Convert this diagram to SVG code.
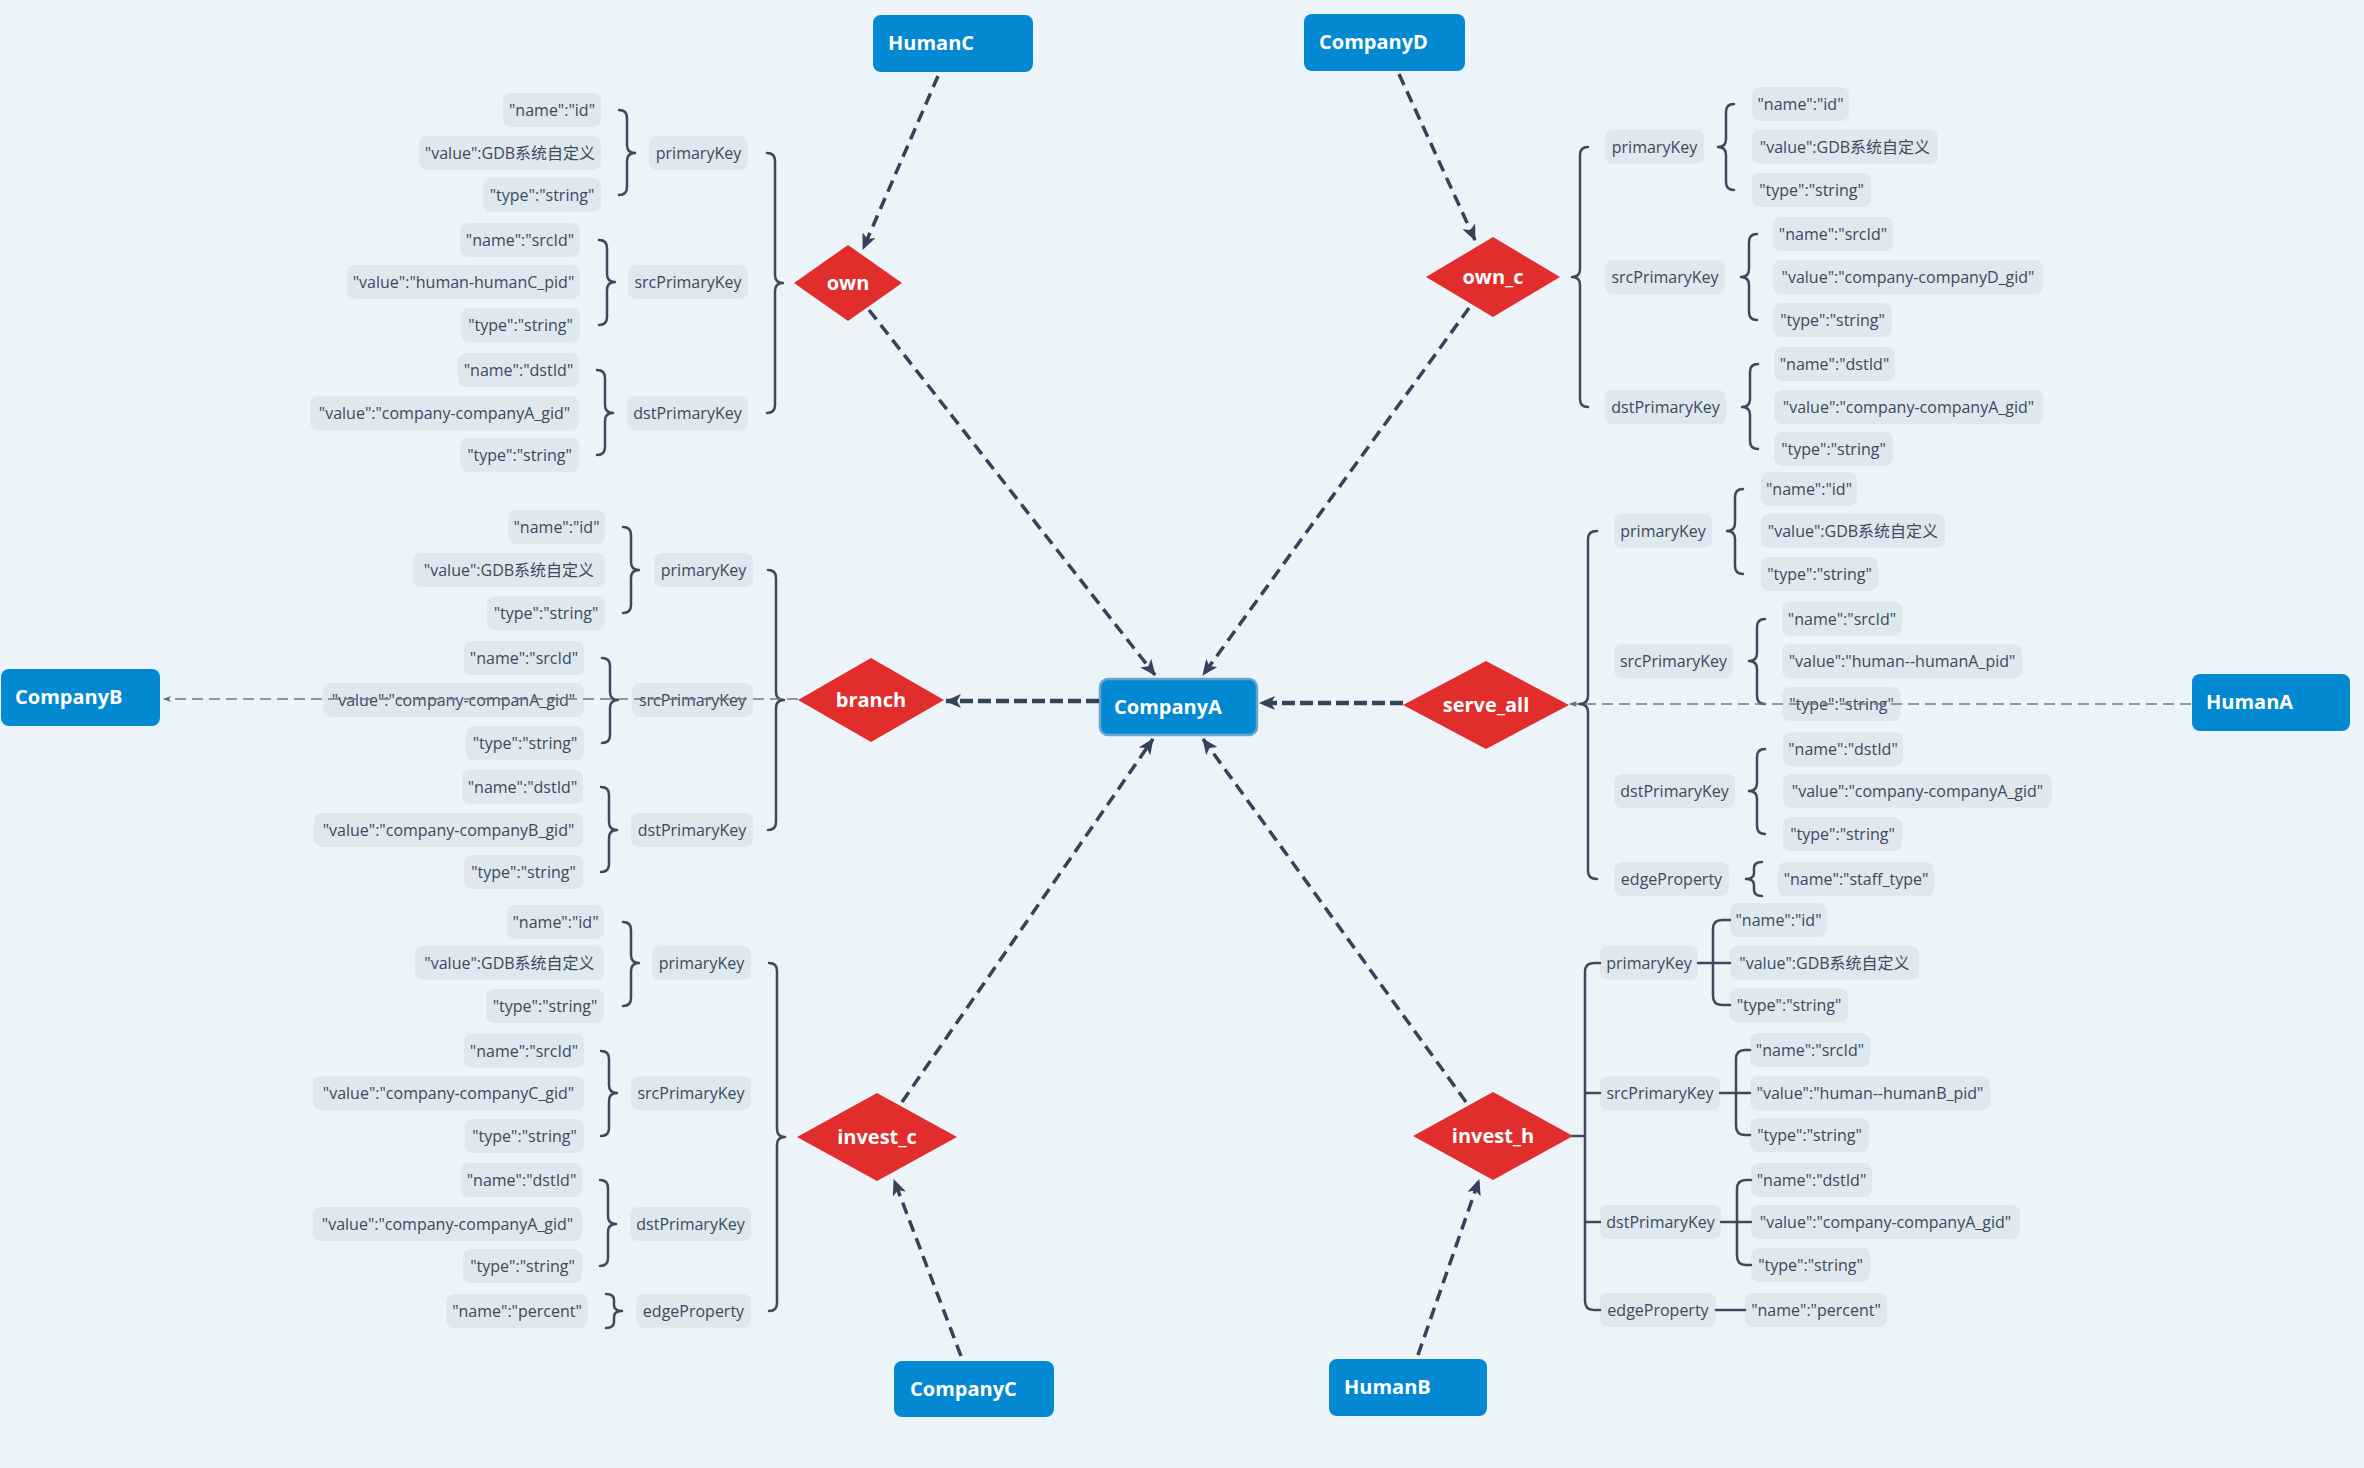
<svg xmlns="http://www.w3.org/2000/svg" width="2364" height="1468" viewBox="0 0 2364 1468">
<defs>
<style>
.bg{fill:#ECF4FA}
.node rect{fill:#0389D2;}
.node text{fill:#FFFFFF;font-family:"Open Sans","Noto Sans",sans-serif;font-weight:700;font-size:20px}
.rel polygon{fill:#E22D2D}
.rel text{fill:#FFFFFF;font-family:"Open Sans","Noto Sans",sans-serif;font-weight:700;font-size:20px;text-anchor:middle}
.box rect{fill:#DFE7EF}
.box text{fill:#3B4A5D;font-family:"Open Sans","Noto Sans CJK SC",sans-serif;font-size:16px;text-anchor:middle}
.brace{fill:none;stroke:#3B4A5E;stroke-width:2.5;stroke-linecap:round;stroke-linejoin:round}
.edge{fill:none;stroke:#34435A;stroke-width:3.5;stroke-dasharray:12 7}
.thick{stroke-width:4.5;stroke-dasharray:13 5}
.thin{stroke:#6E7A8C;stroke-width:1.6;stroke-dasharray:11 6}
</style>
<marker id="arr" markerUnits="userSpaceOnUse" viewBox="0 0 16 14" markerWidth="16" markerHeight="14" refX="15" refY="7" orient="auto">
<path d="M0,0 L16,7 L0,14 L4,7 Z" fill="#34435A"/>
</marker>
<marker id="arrs" markerUnits="userSpaceOnUse" viewBox="0 0 8 8" markerWidth="8" markerHeight="8" refX="7" refY="4" orient="auto">
<path d="M0,1 L8,4 L0,7 L2,4 Z" fill="#5E6B7E"/>
</marker>
</defs>
<rect class="bg" x="0" y="0" width="2364" height="1468"/>

<g id="attributes">
<g id="own-attrs">
<g id="own-pk-name" class="box"><rect x="503" y="93" width="98" height="34" rx="8"/><text x="552" y="116">"name":"id"</text></g>
<g id="own-pk-value" class="box"><rect x="419" y="136" width="182" height="34" rx="8"/><text x="510" y="159">"value":GDB系统自定义</text></g>
<g id="own-pk-type" class="box"><rect x="483" y="178" width="118" height="34" rx="8"/><text x="542" y="201">"type":"string"</text></g>
<g id="own-pk" class="box"><rect x="649" y="136" width="99" height="34" rx="8"/><text x="698.5" y="159">primaryKey</text></g>
<g id="own-src-name" class="box"><rect x="460" y="223" width="120" height="34" rx="8"/><text x="520" y="246">"name":"srcId"</text></g>
<g id="own-src-value" class="box"><rect x="347" y="265" width="233" height="34" rx="8"/><text x="463.5" y="288">"value":"human-humanC_pid"</text></g>
<g id="own-src-type" class="box"><rect x="461" y="308" width="119" height="34" rx="8"/><text x="520.5" y="331">"type":"string"</text></g>
<g id="own-spk" class="box"><rect x="628" y="265" width="120" height="34" rx="8"/><text x="688" y="288">srcPrimaryKey</text></g>
<g id="own-dst-name" class="box"><rect x="458" y="353" width="121" height="34" rx="8"/><text x="518.5" y="376">"name":"dstId"</text></g>
<g id="own-dst-value" class="box"><rect x="310" y="396" width="269" height="34" rx="8"/><text x="444.5" y="419">"value":"company-companyA_gid"</text></g>
<g id="own-dst-type" class="box"><rect x="460" y="438" width="119" height="34" rx="8"/><text x="519.5" y="461">"type":"string"</text></g>
<g id="own-dpk" class="box"><rect x="627" y="396" width="121" height="34" rx="8"/><text x="687.5" y="419">dstPrimaryKey</text></g>
</g>

<g id="ownc-attrs">
<g id="ownc-pk" class="box"><rect x="1605" y="130" width="99" height="34" rx="8"/><text x="1654.5" y="153">primaryKey</text></g>
<g id="ownc-pk-name" class="box"><rect x="1752" y="87" width="97" height="34" rx="8"/><text x="1800.5" y="110">"name":"id"</text></g>
<g id="ownc-pk-value" class="box"><rect x="1752" y="130" width="186" height="34" rx="8"/><text x="1845" y="153">"value":GDB系统自定义</text></g>
<g id="ownc-pk-type" class="box"><rect x="1752" y="173" width="119" height="34" rx="8"/><text x="1811.5" y="196">"type":"string"</text></g>
<g id="ownc-spk" class="box"><rect x="1605" y="260" width="120" height="34" rx="8"/><text x="1665" y="283">srcPrimaryKey</text></g>
<g id="ownc-src-name" class="box"><rect x="1773" y="217" width="120" height="34" rx="8"/><text x="1833" y="240">"name":"srcId"</text></g>
<g id="ownc-src-value" class="box"><rect x="1773" y="260" width="270" height="34" rx="8"/><text x="1908" y="283">"value":"company-companyD_gid"</text></g>
<g id="ownc-src-type" class="box"><rect x="1773" y="303" width="119" height="34" rx="8"/><text x="1832.5" y="326">"type":"string"</text></g>
<g id="ownc-dpk" class="box"><rect x="1605" y="390" width="121" height="34" rx="8"/><text x="1665.5" y="413">dstPrimaryKey</text></g>
<g id="ownc-dst-name" class="box"><rect x="1774" y="347" width="121" height="34" rx="8"/><text x="1834.5" y="370">"name":"dstId"</text></g>
<g id="ownc-dst-value" class="box"><rect x="1774" y="390" width="269" height="34" rx="8"/><text x="1908.5" y="413">"value":"company-companyA_gid"</text></g>
<g id="ownc-dst-type" class="box"><rect x="1774" y="432" width="119" height="34" rx="8"/><text x="1833.5" y="455">"type":"string"</text></g>
</g>

<g id="branch-attrs">
<g id="branch-pk-name" class="box"><rect x="508" y="510" width="97" height="34" rx="8"/><text x="556.5" y="533">"name":"id"</text></g>
<g id="branch-pk-value" class="box"><rect x="413" y="553" width="192" height="34" rx="8"/><text x="509" y="576">"value":GDB系统自定义</text></g>
<g id="branch-pk-type" class="box"><rect x="487" y="596" width="118" height="34" rx="8"/><text x="546" y="619">"type":"string"</text></g>
<g id="branch-pk" class="box"><rect x="654" y="553" width="99" height="34" rx="8"/><text x="703.5" y="576">primaryKey</text></g>
<g id="branch-src-name" class="box"><rect x="464" y="641" width="120" height="34" rx="8"/><text x="524" y="664">"name":"srcId"</text></g>
<g id="branch-src-value" class="box"><rect x="323" y="683" width="261" height="34" rx="8"/><text x="453.5" y="706">"value":"company-companA_gid"</text></g>
<g id="branch-src-type" class="box"><rect x="466" y="726" width="118" height="34" rx="8"/><text x="525" y="749">"type":"string"</text></g>
<g id="branch-spk" class="box"><rect x="632" y="683" width="121" height="34" rx="8"/><text x="692.5" y="706">srcPrimaryKey</text></g>
<g id="branch-dst-name" class="box"><rect x="462" y="770" width="121" height="34" rx="8"/><text x="522.5" y="793">"name":"dstId"</text></g>
<g id="branch-dst-value" class="box"><rect x="314" y="813" width="269" height="34" rx="8"/><text x="448.5" y="836">"value":"company-companyB_gid"</text></g>
<g id="branch-dst-type" class="box"><rect x="464" y="855" width="119" height="34" rx="8"/><text x="523.5" y="878">"type":"string"</text></g>
<g id="branch-dpk" class="box"><rect x="631" y="813" width="122" height="34" rx="8"/><text x="692" y="836">dstPrimaryKey</text></g>
</g>

<g id="serve-attrs">
<g id="serve-pk" class="box"><rect x="1614" y="514" width="98" height="34" rx="8"/><text x="1663" y="537">primaryKey</text></g>
<g id="serve-pk-name" class="box"><rect x="1761" y="472" width="96" height="34" rx="8"/><text x="1809" y="495">"name":"id"</text></g>
<g id="serve-pk-value" class="box"><rect x="1761" y="514" width="184" height="34" rx="8"/><text x="1853" y="537">"value":GDB系统自定义</text></g>
<g id="serve-pk-type" class="box"><rect x="1761" y="557" width="117" height="34" rx="8"/><text x="1819.5" y="580">"type":"string"</text></g>
<g id="serve-spk" class="box"><rect x="1614" y="644" width="119" height="34" rx="8"/><text x="1673.5" y="667">srcPrimaryKey</text></g>
<g id="serve-src-name" class="box"><rect x="1782" y="602" width="120" height="34" rx="8"/><text x="1842" y="625">"name":"srcId"</text></g>
<g id="serve-src-value" class="box"><rect x="1782" y="644" width="240" height="34" rx="8"/><text x="1902" y="667">"value":"human--humanA_pid"</text></g>
<g id="serve-src-type" class="box"><rect x="1782" y="687" width="119" height="34" rx="8"/><text x="1841.5" y="710">"type":"string"</text></g>
<g id="serve-dpk" class="box"><rect x="1614" y="774" width="121" height="34" rx="8"/><text x="1674.5" y="797">dstPrimaryKey</text></g>
<g id="serve-dst-name" class="box"><rect x="1783" y="732" width="120" height="34" rx="8"/><text x="1843" y="755">"name":"dstId"</text></g>
<g id="serve-dst-value" class="box"><rect x="1783" y="774" width="269" height="34" rx="8"/><text x="1917.5" y="797">"value":"company-companyA_gid"</text></g>
<g id="serve-dst-type" class="box"><rect x="1783" y="817" width="119" height="34" rx="8"/><text x="1842.5" y="840">"type":"string"</text></g>
<g id="serve-ep" class="box"><rect x="1614" y="862" width="115" height="34" rx="8"/><text x="1671.5" y="885">edgeProperty</text></g>
<g id="serve-ep-name" class="box"><rect x="1778" y="862" width="156" height="34" rx="8"/><text x="1856" y="885">"name":"staff_type"</text></g>
</g>

<g id="investc-attrs">
<g id="investc-pk-name" class="box"><rect x="507" y="905" width="97" height="34" rx="8"/><text x="555.5" y="928">"name":"id"</text></g>
<g id="investc-pk-value" class="box"><rect x="415" y="946" width="189" height="34" rx="8"/><text x="509.5" y="969">"value":GDB系统自定义</text></g>
<g id="investc-pk-type" class="box"><rect x="486" y="989" width="118" height="34" rx="8"/><text x="545" y="1012">"type":"string"</text></g>
<g id="investc-pk" class="box"><rect x="652" y="946" width="99" height="34" rx="8"/><text x="701.5" y="969">primaryKey</text></g>
<g id="investc-src-name" class="box"><rect x="464" y="1034" width="120" height="34" rx="8"/><text x="524" y="1057">"name":"srcId"</text></g>
<g id="investc-src-value" class="box"><rect x="313" y="1076" width="271" height="34" rx="8"/><text x="448.5" y="1099">"value":"company-companyC_gid"</text></g>
<g id="investc-src-type" class="box"><rect x="465" y="1119" width="119" height="34" rx="8"/><text x="524.5" y="1142">"type":"string"</text></g>
<g id="investc-spk" class="box"><rect x="631" y="1076" width="120" height="34" rx="8"/><text x="691" y="1099">srcPrimaryKey</text></g>
<g id="investc-dst-name" class="box"><rect x="461" y="1163" width="121" height="34" rx="8"/><text x="521.5" y="1186">"name":"dstId"</text></g>
<g id="investc-dst-value" class="box"><rect x="313" y="1207" width="269" height="34" rx="8"/><text x="447.5" y="1230">"value":"company-companyA_gid"</text></g>
<g id="investc-dst-type" class="box"><rect x="463" y="1249" width="119" height="34" rx="8"/><text x="522.5" y="1272">"type":"string"</text></g>
<g id="investc-dpk" class="box"><rect x="630" y="1207" width="121" height="34" rx="8"/><text x="690.5" y="1230">dstPrimaryKey</text></g>
<g id="investc-ep-name" class="box"><rect x="446" y="1294" width="142" height="34" rx="8"/><text x="517" y="1317">"name":"percent"</text></g>
<g id="investc-ep" class="box"><rect x="636" y="1294" width="115" height="34" rx="8"/><text x="693.5" y="1317">edgeProperty</text></g>
</g>

<g id="investh-attrs">
<g id="investh-pk" class="box"><rect x="1600" y="946" width="98" height="34" rx="8"/><text x="1649" y="969">primaryKey</text></g>
<g id="investh-pk-name" class="box"><rect x="1730" y="903" width="97" height="34" rx="8"/><text x="1778.5" y="926">"name":"id"</text></g>
<g id="investh-pk-value" class="box"><rect x="1730" y="946" width="189" height="34" rx="8"/><text x="1824.5" y="969">"value":GDB系统自定义</text></g>
<g id="investh-pk-type" class="box"><rect x="1730" y="988" width="118" height="34" rx="8"/><text x="1789" y="1011">"type":"string"</text></g>
<g id="investh-spk" class="box"><rect x="1600" y="1076" width="120" height="34" rx="8"/><text x="1660" y="1099">srcPrimaryKey</text></g>
<g id="investh-src-name" class="box"><rect x="1750" y="1033" width="120" height="34" rx="8"/><text x="1810" y="1056">"name":"srcId"</text></g>
<g id="investh-src-value" class="box"><rect x="1750" y="1076" width="240" height="34" rx="8"/><text x="1870" y="1099">"value":"human--humanB_pid"</text></g>
<g id="investh-src-type" class="box"><rect x="1750" y="1118" width="119" height="34" rx="8"/><text x="1809.5" y="1141">"type":"string"</text></g>
<g id="investh-dpk" class="box"><rect x="1600" y="1205" width="121" height="34" rx="8"/><text x="1660.5" y="1228">dstPrimaryKey</text></g>
<g id="investh-dst-name" class="box"><rect x="1751" y="1163" width="121" height="34" rx="8"/><text x="1811.5" y="1186">"name":"dstId"</text></g>
<g id="investh-dst-value" class="box"><rect x="1751" y="1205" width="269" height="34" rx="8"/><text x="1885.5" y="1228">"value":"company-companyA_gid"</text></g>
<g id="investh-dst-type" class="box"><rect x="1751" y="1248" width="119" height="34" rx="8"/><text x="1810.5" y="1271">"type":"string"</text></g>
<g id="investh-ep" class="box"><rect x="1600" y="1293" width="116" height="34" rx="8"/><text x="1658" y="1316">edgeProperty</text></g>
<g id="investh-ep-name" class="box"><rect x="1745" y="1293" width="142" height="34" rx="8"/><text x="1816" y="1316">"name":"percent"</text></g>
</g>
</g>

<g id="braces">
<path class="brace" d="M619 110 Q627 110 627 118 V145 Q627 153 635 153 Q627 153 627 161 V187 Q627 195 619 195"/>
<path class="brace" d="M599 240 Q607 240 607 248 V274 Q607 282 615 282 Q607 282 607 290 V317 Q607 325 599 325"/>
<path class="brace" d="M597 370 Q605 370 605 378 V405 Q605 413 613 413 Q605 413 605 421 V447 Q605 455 597 455"/>
<path class="brace" d="M767 153 Q775 153 775 161 V275 Q775 283 783 283 Q775 283 775 291 V405 Q775 413 767 413"/>

<path class="brace" d="M1588 147 Q1580 147 1580 155 V269 Q1580 277 1572 277 Q1580 277 1580 285 V399 Q1580 407 1588 407"/>
<path class="brace" d="M1734 104 Q1726 104 1726 112 V139 Q1726 147 1718 147 Q1726 147 1726 155 V182 Q1726 190 1734 190"/>
<path class="brace" d="M1757 234 Q1749 234 1749 242 V269 Q1749 277 1741 277 Q1749 277 1749 285 V312 Q1749 320 1757 320"/>
<path class="brace" d="M1758 364 Q1750 364 1750 372 V399 Q1750 407 1742 407 Q1750 407 1750 415 V441 Q1750 449 1758 449"/>

<path class="brace" d="M623 527 Q631 527 631 535 V562 Q631 570 639 570 Q631 570 631 578 V605 Q631 613 623 613"/>
<path class="brace" d="M602 658 Q610 658 610 666 V692 Q610 700 618 700 Q610 700 610 708 V735 Q610 743 602 743"/>
<path class="brace" d="M601 787 Q609 787 609 795 V822 Q609 830 617 830 Q609 830 609 838 V864 Q609 872 601 872"/>
<path class="brace" d="M768 570 Q776 570 776 578 V692 Q776 700 784 700 Q776 700 776 708 V822 Q776 830 768 830"/>

<path class="brace" d="M1597 531 Q1588 531 1588 539 V696 Q1588 704 1579 704 Q1588 704 1588 712 V871 Q1588 879 1597 879"/>
<path class="brace" d="M1743 489 Q1735 489 1735 497 V523 Q1735 531 1727 531 Q1735 531 1735 539 V566 Q1735 574 1743 574"/>
<path class="brace" d="M1765 619 Q1757 619 1757 627 V653 Q1757 661 1749 661 Q1757 661 1757 669 V696 Q1757 704 1765 704"/>
<path class="brace" d="M1765 749 Q1757 749 1757 757 V783 Q1757 791 1749 791 Q1757 791 1757 799 V826 Q1757 834 1765 834"/>
<path class="brace" d="M1762 862 Q1754 862 1754 868 V873 Q1754 879 1746 879 Q1754 879 1754 885 V890 Q1754 896 1762 896"/>

<path class="brace" d="M623 922 Q631 922 631 930 V955 Q631 963 639 963 Q631 963 631 971 V998 Q631 1006 623 1006"/>
<path class="brace" d="M601 1051 Q609 1051 609 1059 V1085 Q609 1093 617 1093 Q609 1093 609 1101 V1128 Q609 1136 601 1136"/>
<path class="brace" d="M600 1180 Q608 1180 608 1188 V1216 Q608 1224 616 1224 Q608 1224 608 1232 V1258 Q608 1266 600 1266"/>
<path class="brace" d="M606 1294 Q614 1294 614 1300 V1305 Q614 1311 622 1311 Q614 1311 614 1317 V1322 Q614 1328 606 1328"/>
<path class="brace" d="M769 963 Q777 963 777 971 V1129 Q777 1137 785 1137 Q777 1137 777 1145 V1303 Q777 1311 769 1311"/>

<path class="brace" d="M1572 1136 H1585 M1600 963 H1594 Q1585 963 1585 972 V1301 Q1585 1310 1594 1310 H1600 M1585 1093 H1600 M1585 1222 H1600"/>
<path class="brace" d="M1698 963 H1730 M1730 920 H1722 Q1713 920 1713 929 V996 Q1713 1005 1722 1005 H1730"/>
<path class="brace" d="M1720 1093 H1750 M1750 1050 H1745 Q1736 1050 1736 1059 V1126 Q1736 1135 1745 1135 H1750"/>
<path class="brace" d="M1721 1222 H1751 M1751 1180 H1746 Q1737 1180 1737 1189 V1256 Q1737 1265 1746 1265 H1751"/>
<path class="brace" d="M1716 1310 H1745"/>
</g>

<g id="relations">
<g id="rel-own" class="rel"><polygon points="794,283 848,245 902,283 848,321"/><text x="848" y="290">own</text></g>
<g id="rel-own_c" class="rel"><polygon points="1426,277 1493,237 1560,277 1493,317"/><text x="1493" y="284">own_c</text></g>
<g id="rel-branch" class="rel"><polygon points="798,700 871,658 944,700 871,742"/><text x="871" y="707">branch</text></g>
<g id="rel-serve_all" class="rel"><polygon points="1403,705 1486,661 1569,705 1486,749"/><text x="1486" y="712">serve_all</text></g>
<g id="rel-invest_c" class="rel"><polygon points="797,1137 877,1093 957,1137 877,1181"/><text x="877" y="1144">invest_c</text></g>
<g id="rel-invest_h" class="rel"><polygon points="1413,1136 1493,1092 1573,1136 1493,1180"/><text x="1493" y="1143">invest_h</text></g>
</g>

<g id="entities">
<g id="node-HumanC" class="node"><rect x="873" y="15" width="160" height="57" rx="8"/><text x="888" y="50">HumanC</text></g>
<g id="node-CompanyD" class="node"><rect x="1304" y="14" width="161" height="57" rx="8"/><text x="1319" y="49">CompanyD</text></g>
<g id="node-CompanyB" class="node"><rect x="1" y="669" width="159" height="57" rx="8"/><text x="15" y="704">CompanyB</text></g>
<g id="node-CompanyA" class="node"><rect x="1100" y="679" width="157" height="56" rx="8" stroke="#6AA5CB" stroke-width="2.5"/><text x="1114" y="714">CompanyA</text></g>
<g id="node-HumanA" class="node"><rect x="2192" y="674" width="158" height="57" rx="8"/><text x="2206" y="709">HumanA</text></g>
<g id="node-CompanyC" class="node"><rect x="894" y="1361" width="160" height="56" rx="8"/><text x="910" y="1396">CompanyC</text></g>
<g id="node-HumanB" class="node"><rect x="1329" y="1359" width="158" height="57" rx="8"/><text x="1344" y="1394">HumanB</text></g>
</g>

<g id="connectors">
<path class="edge" d="M938 76 L863 249" marker-end="url(#arr)"/>
<path class="edge" d="M869 310 L1155 675" marker-end="url(#arr)"/>
<path class="edge" d="M1399 74 L1475 240" marker-end="url(#arr)"/>
<path class="edge" d="M1469 308 L1203 675" marker-end="url(#arr)"/>
<path class="edge thick" d="M1099 701 L946 701" marker-end="url(#arr)"/>
<path class="edge thick" d="M1403 703 L1260 703" marker-end="url(#arr)"/>
<path class="edge" d="M961 1356 L894 1180" marker-end="url(#arr)"/>
<path class="edge" d="M902 1102 L1153 739" marker-end="url(#arr)"/>
<path class="edge" d="M1418 1355 L1479 1180" marker-end="url(#arr)"/>
<path class="edge" d="M1466 1102 L1203 739" marker-end="url(#arr)"/>
<path class="edge thin" d="M798 699 L164 699" marker-end="url(#arrs)"/>
<path class="edge thin" d="M2191 704 L1570 704" marker-end="url(#arrs)"/>
</g>
</svg>
